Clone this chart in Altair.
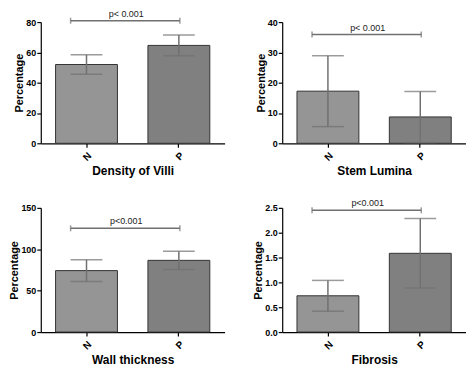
import altair as alt
import pandas as pd

# ---- data ----
titles = ["Density of Villi", "Stem Lumina", "Wall thickness", "Fibrosis"]
groups = ["N", "P"]
means = [[52.0, 64.6], [17.2, 8.7], [74.2, 86.6], [0.73, 1.585]]
sds = [[6.4, 6.8], [11.7, 8.4], [13.0, 11.1], [0.31, 0.70]]
y_max = [80, 40, 150, 2.5]
y_ticks = [[0, 20, 40, 60, 80], [0, 10, 20, 30, 40], [0, 50, 100, 150],
           [0.0, 0.5, 1.0, 1.5, 2.0, 2.5]]
y_formats = ["d", "d", "d", ".1f"]
bracket_y = [80.9, 35.9, 125.3, 2.45]
p_labels = ["p< 0.001", "p< 0.001", "p<0.001", "p<0.001"]

FONT = "Liberation Sans"
BAR_FILL = ["#959595", "#808080"]
ERR = "#707070"
W, H1, H2 = 185, 122, 125


def panel(i, h):
    df = pd.DataFrame({
        "group": groups,
        "mean": means[i],
        "lo": [m - s for m, s in zip(means[i], sds[i])],
        "hi": [m + s for m, s in zip(means[i], sds[i])],
    })
    xsc = alt.Scale(domain=groups, paddingInner=0.33, paddingOuter=0.16)
    ysc = alt.Scale(domain=[0, y_max[i]], nice=False, zero=True)
    xaxis = alt.Axis(title=titles[i], labelAngle=315, labelFontSize=10,
                     labelFontWeight="bold", titleFontSize=12,
                     titleFontWeight="bold", titlePadding=3,
                     tickSize=4, labelPadding=3)
    yaxis = alt.Axis(title="Percentage", values=y_ticks[i], format=y_formats[i],
                     labelFontSize=9, labelFontWeight="bold", titleFontSize=11,
                     titleFontWeight="bold", titlePadding=1, tickSize=4,
                     labelPadding=1, grid=False, labelOverlap=False,
                     labelFlush=False, tickCount=len(y_ticks[i]))

    def X(f):
        return alt.X(f, type="nominal", scale=xsc, axis=xaxis)

    def Y(f):
        return alt.Y(f, type="quantitative", scale=ysc, axis=yaxis)

    base = alt.Chart(df)
    bars = base.mark_bar(stroke="#333333", strokeWidth=1).encode(
        x=X("group"),
        y=Y("mean"),
        color=alt.Color("group:N", scale=alt.Scale(domain=groups, range=BAR_FILL),
                        legend=None),
    )
    err = base.mark_rule(color=ERR, strokeWidth=1.5).encode(
        x=X("group"), y=Y("lo"), y2="hi:Q")
    cap_hi = base.mark_tick(color=ERR, thickness=1.5, size=32).encode(
        x=X("group"), y=Y("hi"))
    cap_lo = base.mark_tick(color=ERR, thickness=1.5, size=32).encode(
        x=X("group"), y=Y("lo"))

    bdf = pd.DataFrame({"group": [groups[0]], "group2": [groups[1]],
                        "y": [bracket_y[i]], "label": [p_labels[i]]})
    bb = alt.Chart(bdf)
    br = bb.mark_rule(color=ERR, strokeWidth=1.5, xOffset=-16, x2Offset=1).encode(
        x=X("group"), x2="group2:N", y=Y("y"))
    end_l = bb.mark_tick(color=ERR, thickness=1.5, size=6, orient="vertical",
                         xOffset=-16).encode(x=X("group"), y=Y("y"))
    end_r = bb.mark_tick(color=ERR, thickness=1.5, size=6, orient="vertical",
                         xOffset=1).encode(x=X("group2"), y=Y("y"))
    txt = bb.mark_text(baseline="bottom", dy=-2, dx=40, fontSize=9, font=FONT,
                       color="#222222").encode(x=X("group"), y=Y("y"),
                                               text="label:N")
    return alt.layer(bars, err, cap_hi, cap_lo, br, end_l, end_r, txt).properties(
        width=W, height=h)


chart = alt.concat(
    panel(0, H1), panel(1, H1), panel(2, H2), panel(3, H2), columns=2,
    spacing={"row": 22, "column": 28},
).properties(
    padding={"left": 0, "top": 0, "right": 0, "bottom": 0}
).configure(
    font=FONT,
).configure_view(
    stroke=None
).configure_axis(
    domainColor="#000000", tickColor="#000000", labelColor="#000000",
    titleColor="#000000", domainWidth=1.2, tickWidth=1.2, labelFont=FONT,
    titleFont=FONT,
)

chart.save("out.html", embed_options={"renderer": "svg", "actions": False})
